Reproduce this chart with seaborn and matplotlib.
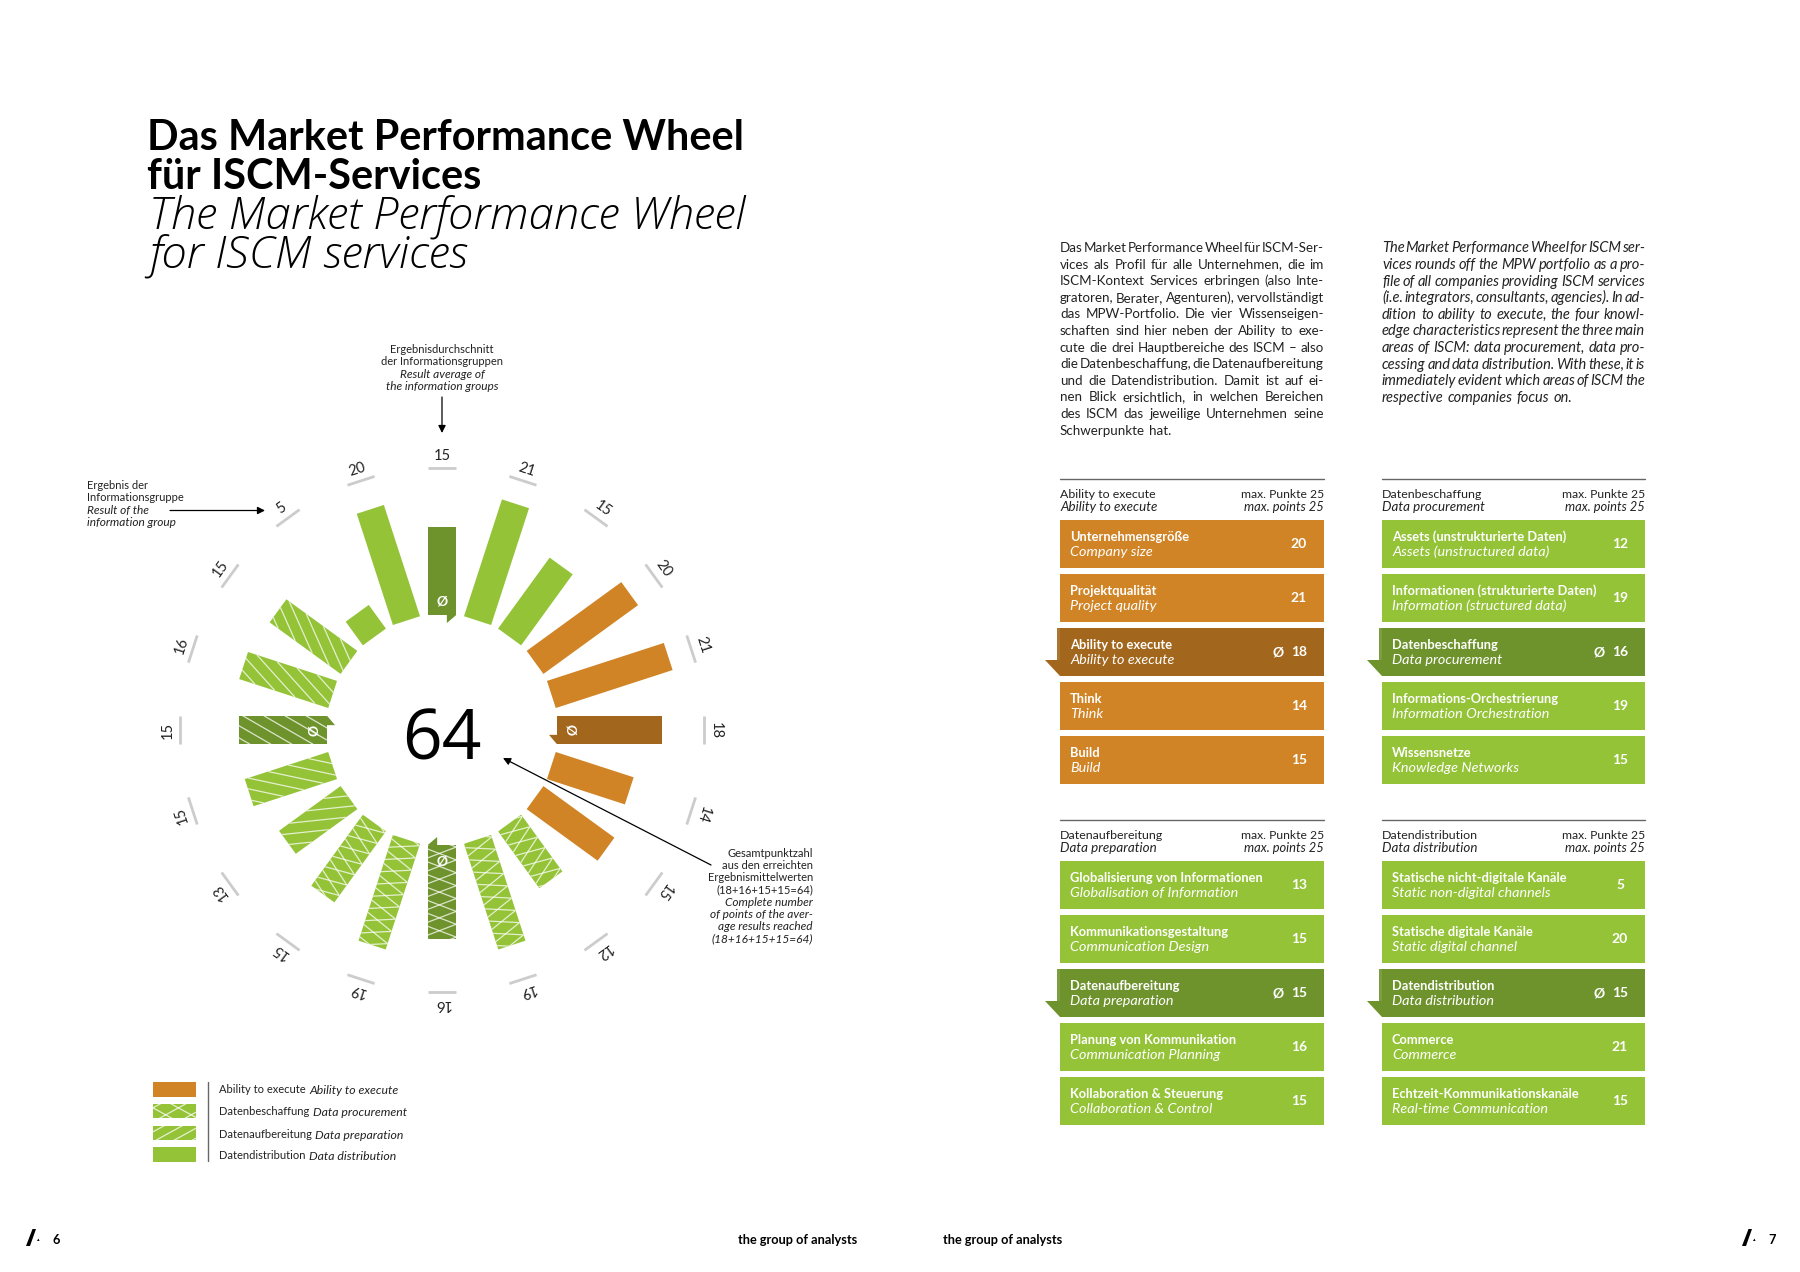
import numpy as np
import pandas as pd
import matplotlib
matplotlib.use('Agg')
import matplotlib.pyplot as plt
import seaborn as sns
from matplotlib.patches import Rectangle, Polygon
from matplotlib.path import Path
from matplotlib.transforms import Affine2D

# Datos: los cuatro grupos de la rueda
ability_de = ['Unternehmensgröße', 'Projektqualität', 'Ability to execute', 'Think', 'Build']
ability_en = ['Company size', 'Project quality', 'Ability to execute', 'Think', 'Build']
ability_scores = [20, 21, 18, 14, 15]

procurement_de = ['Assets (unstrukturierte Daten)', 'Informationen (strukturierte Daten)',
                  'Datenbeschaffung', 'Informations-Orchestrierung', 'Wissensnetze']
procurement_en = ['Assets (unstructured data)', 'Information (structured data)',
                  'Data procurement', 'Information Orchestration', 'Knowledge Networks']
procurement_scores = [12, 19, 16, 19, 15]

preparation_de = ['Globalisierung von Informationen', 'Kommunikationsgestaltung',
                  'Datenaufbereitung', 'Planung von Kommunikation', 'Kollaboration & Steuerung']
preparation_en = ['Globalisation of Information', 'Communication Design',
                  'Data preparation', 'Communication Planning', 'Collaboration & Control']
preparation_scores = [13, 15, 15, 16, 15]

distribution_de = ['Statische nicht-digitale Kanäle', 'Statische digitale Kanäle',
                   'Datendistribution', 'Commerce', 'Echtzeit-Kommunikationskanäle']
distribution_en = ['Static non-digital channels', 'Static digital channel',
                   'Data distribution', 'Commerce', 'Real-time Communication']
distribution_scores = [5, 20, 15, 21, 15]

total_score = 64

text_de = ['Das Market Performance Wheel für ISCM-Ser-',
           'vices als Profil für alle Unternehmen, die im',
           'ISCM-Kontext Services erbringen (also Inte-',
           'gratoren, Berater, Agenturen), vervollständigt',
           'das MPW-Portfolio. Die vier Wissenseigen-',
           'schaften sind hier neben der Ability to exe-',
           'cute die drei Hauptbereiche des ISCM – also',
           'die Datenbeschaffung, die Datenaufbereitung',
           'und die Datendistribution. Damit ist auf ei-',
           'nen Blick ersichtlich, in welchen Bereichen',
           'des ISCM das jeweilige Unternehmen seine',
           'Schwerpunkte hat.']
text_en = ['The Market Performance Wheel for ISCM ser-',
           'vices rounds off the MPW portfolio as a pro-',
           'file of all companies providing ISCM services',
           '(i.e. integrators, consultants, agencies). In ad-',
           'dition to ability to execute, the four knowl-',
           'edge characteristics represent the three main',
           'areas of ISCM: data procurement, data pro-',
           'cessing and data distribution. With these, it is',
           'immediately evident which areas of ISCM the',
           'respective companies focus on.']

ORANGE = '#D08426'
ORANGE_DARK = '#A2671C'
GREEN = '#94C338'
GREEN_DARK = '#6E932D'
TICK_GRAY = '#CCCCCC'
INK = '#222222'
FONT = 'Lato'

PX = 5.85          # pixeles por punto de la rueda
INNER = 115 / PX
BAR_W = 28.5 / PX

sns.set_theme(style='white')
plt.rcParams['font.family'] = [FONT, 'DejaVu Sans']

fig = plt.figure(figsize=(18, 12.72), dpi=100, facecolor='white')

# Rueda
wheel = fig.add_axes([(442 - 300) / 1800, 1 - (730 + 300) / 1272, 600 / 1800, 600 / 1272])
groups = [('ability', ability_scores, ORANGE, ORANGE_DARK, None),
          ('procurement', procurement_scores, GREEN, GREEN_DARK, 'cross'),
          ('preparation', preparation_scores, GREEN, GREEN_DARK, 'diag'),
          ('distribution', distribution_scores, GREEN, GREEN_DARK, None)]

rows = []
for name, scores, col, dark, hatch in groups:
    for j, s in enumerate(scores):
        rows.append({'pos': len(rows), 'score': s, 'color': dark if j == 2 else col,
                     'hatch': hatch, 'avg': j == 2})
df = pd.DataFrame(rows)
sns.barplot(data=df, x='pos', y='score', hue='pos', palette=list(df['color']), saturation=1,
            legend=False, dodge=False, ax=wheel)
wheel.set_xlim(-300 / PX, 300 / PX)
wheel.set_ylim(-300 / PX, 300 / PX)
wheel.set_axis_off()


def draw_hatch(ax, trans, x0, x1, y0, y1, slopes, step, color='white', lw=0.9, alpha=0.75):
    clip = Path([(x0, y0), (x1, y0), (x1, y1), (x0, y1), (x0, y0)])
    for m in slopes:
        span = abs(m) * (x1 - x0)
        for c in np.arange(y0 - span - step, y1 + span + step, step):
            ln, = ax.plot([x0, x1], [c, c + m * (x1 - x0)], color=color, lw=lw, alpha=alpha,
                          transform=trans, solid_capstyle='butt')
            ln.set_clip_path(clip, trans)


bars = sorted(wheel.patches, key=lambda p: p.get_x())
for (k, row), bar in zip(df.iterrows(), bars):
    ang = 54 + 18 * k
    rot = Affine2D().rotate_deg(-ang) + wheel.transData
    bar.set_x(-BAR_W / 2)
    bar.set_width(BAR_W)
    bar.set_y(INNER)
    bar.set_linewidth(0)
    bar.set_transform(rot)
    top = INNER + row['score']
    if row['hatch'] == 'cross':
        draw_hatch(wheel, rot, -BAR_W / 2, BAR_W / 2, INNER, top, [0.38, -0.38], 2.2)
    elif row['hatch'] == 'diag':
        draw_hatch(wheel, rot, -BAR_W / 2, BAR_W / 2, INNER, top, [1.73], 3.6)
    # marca de escala y valor
    wheel.plot([-BAR_W / 2, BAR_W / 2], [262 / PX, 262 / PX], color=TICK_GRAY, lw=2,
               transform=rot, solid_capstyle='butt')
    a = np.deg2rad(ang)
    wheel.text(274 / PX * np.sin(a), 274 / PX * np.cos(a), str(row['score']), rotation=-ang,
               rotation_mode='anchor', ha='center', va='center', fontsize=10.5, color=INK)
    if row['avg']:
        tri = [(BAR_W / 2 - 9.4 / PX, INNER), (BAR_W / 2, INNER), (BAR_W / 2 - 9.4 / PX, INNER - 8 / PX)]
        wheel.add_patch(Polygon(tri, closed=True, facecolor=row['color'], linewidth=0, transform=rot))
        wheel.text(128 / PX * np.sin(a), 128 / PX * np.cos(a), 'Ø', rotation=-ang, rotation_mode='anchor',
                   ha='center', va='center', fontsize=10, color='white', fontweight='bold')

wheel.text(0, -2.0, str(total_score), ha='center', va='center', fontsize=50, color='black',
           family='Open Sans', fontweight='normal')

# Capa de pagina en pixeles
page = fig.add_axes([0, 0, 1, 1], zorder=5)
page.set_xlim(0, 1800)
page.set_ylim(1272, 0)
page.set_axis_off()
page.patch.set_alpha(0)


def txt(x, y, s, size=9, ha='left', style='normal', weight='normal', color=INK, **kw):
    return page.text(x, y + 0.3 * size / 0.72, s, fontsize=size, ha=ha, va='baseline', style=style,
                     fontweight=weight, color=color, **kw)


# Titulo
txt(147, 138, 'Das Market Performance Wheel', 29.9, weight='bold', color='black')
txt(147, 177, 'für ISCM-Services', 29.9, weight='bold', color='black')
txt(149, 215, 'The Market Performance Wheel', 32.7, style='italic', weight='light', color='black', family='Open Sans')
txt(149, 254, 'for ISCM services', 32.7, style='italic', weight='light', color='black', family='Open Sans')

renderer = fig.canvas.get_renderer()


def justified(lines, x0, x1, y0, step, size, style):
    for n, line in enumerate(lines):
        words = line.split()
        y = y0 + n * step
        artists = [txt(0, y, w, size, style=style) for w in words]
        widths = [a.get_window_extent(renderer).width for a in artists]
        if n == len(lines) - 1:
            gap = size / 0.72 * 0.27
        else:
            gap = (x1 - x0 - sum(widths)) / (len(words) - 1)
        x = x0
        for a, w in zip(artists, widths):
            a.set_x(x)
            x += w + gap


justified(text_de, 1060, 1324, 248, 16.6, 9.6, 'normal')
justified(text_en, 1382, 1645, 248, 16.6, 10.5, 'italic')

# Tablas
blocks = [(1060, 1324, 479, 'Ability to execute', 'Ability to execute', ability_de, ability_en, ability_scores, ORANGE, ORANGE_DARK),
          (1382, 1645, 479, 'Datenbeschaffung', 'Data procurement', procurement_de, procurement_en, procurement_scores, GREEN, GREEN_DARK),
          (1060, 1324, 820, 'Datenaufbereitung', 'Data preparation', preparation_de, preparation_en, preparation_scores, GREEN, GREEN_DARK),
          (1382, 1645, 820, 'Datendistribution', 'Data distribution', distribution_de, distribution_en, distribution_scores, GREEN, GREEN_DARK)]
for x0, x1, ytop, head_de, head_en, labels_de, labels_en, scores, col, dark in blocks:
    page.plot([x0, x1], [ytop, ytop], color='#666666', lw=1)
    txt(x0, ytop + 15, head_de, 8.9)
    txt(x0, ytop + 28, head_en, 9.6, style='italic')
    txt(x1, ytop + 15, 'max. Punkte 25', 8.7, ha='right')
    txt(x1, ytop + 28, 'max. points 25', 9.3, ha='right', style='italic')
    for j, (de, en, s) in enumerate(zip(labels_de, labels_en, scores)):
        y = ytop + 41 + j * 54
        avg = j == 2
        c = dark if avg else col
        page.add_patch(Rectangle((x0, y), x1 - x0, 47.5, facecolor=c, linewidth=0))
        if avg:
            page.add_patch(Rectangle((x0 - 3.5, y), 3.5, 32, facecolor=c, linewidth=0, alpha=0.9))
            page.add_patch(Polygon([(x0 - 15, y + 32), (x0, y + 32), (x0, y + 47.5)], closed=True,
                                   facecolor=c, linewidth=0))
            txt(x1 - 46, y + 24, 'Ø', 10, ha='center', weight='bold', color='white')
        txt(x0 + 10, y + 17, de, 9.3, weight='bold', color='white')
        txt(x0 + 10, y + 32, en, 10.4, style='italic', color='white')
        txt(x1 - 25, y + 24, str(s), 10, ha='center', weight='bold', color='white')

# Leyenda
legend_names = [('Ability to execute ', 'Ability to execute', ORANGE, None),
                ('Datenbeschaffung ', 'Data procurement', GREEN, 'cross'),
                ('Datenaufbereitung ', 'Data preparation', GREEN, 'diag'),
                ('Datendistribution ', 'Data distribution', GREEN, None)]
legend_y = [1082, 1103.5, 1125.5, 1147]
legend_text_y = [1090, 1112, 1135, 1156]
for (de, en, c, h), y, ty in zip(legend_names, legend_y, legend_text_y):
    page.add_patch(Rectangle((153, y), 43, 14.5, facecolor=c, linewidth=0))
    if h == 'cross':
        draw_hatch(page, page.transData, 153, 196, y, y + 14.5, [0.55, -0.55], 14)
    elif h == 'diag':
        draw_hatch(page, page.transData, 153, 196, y, y + 14.5, [-0.55], 10)
    a = txt(219, ty, de.strip(), 8)
    w = a.get_window_extent(renderer).width
    txt(219 + w + 3.5, ty, en, 8.8, style='italic')
page.plot([208, 208], [1082, 1161], color='#666666', lw=1)

# Anotaciones
for y, s, st in zip([350, 362, 374, 386],
                    ['Ergebnisdurchschnitt', 'der Informationsgruppen', 'Result average of', 'the information groups'],
                    ['normal', 'normal', 'italic', 'italic']):
    txt(442, y, s, 8.6 if st == 'italic' else 8, ha='center', style=st)
for y, s, st in zip([486, 498, 510, 522],
                    ['Ergebnis der', 'Informationsgruppe', 'Result of the', 'information group'],
                    ['normal', 'normal', 'italic', 'italic']):
    txt(87, y, s, 8.6 if st == 'italic' else 8, style=st)
note = ['Gesamtpunktzahl', 'aus den erreichten', 'Ergebnismittelwerten', '(18+16+15+15=64)',
        'Complete number', 'of points of the aver-', 'age results reached', '(18+16+15+15=64)']
for n, s in enumerate(note):
    txt(813, 854 + n * 12.05, s, 8.6 if n >= 4 else 8, ha='right', style='italic' if n >= 4 else 'normal')

arrow = dict(arrowstyle='-|>', color='black', lw=0.9, mutation_scale=11, shrinkA=0, shrinkB=0)
page.annotate('', xy=(442, 433), xytext=(442, 397), arrowprops=arrow)
page.annotate('', xy=(265, 510.5), xytext=(170, 510.5), arrowprops=arrow)
page.annotate('', xy=(503, 758), xytext=(711, 865), arrowprops=arrow)

# Pie de pagina
for dx in [0, 1716]:
    page.add_patch(Polygon([(26 + dx, 1246), (30 + dx, 1246), (36 + dx, 1229), (32.5 + dx, 1229)],
                           closed=True, facecolor='black', linewidth=0))
    page.add_patch(Polygon([(37 + dx, 1241), (39.5 + dx, 1241), (38.5 + dx, 1238.5)],
                           closed=True, facecolor='black', linewidth=0))
txt(56, 1240.5, '6', 9.2, ha='center', weight='bold', color='black')
txt(1772, 1240.5, '7', 9.2, ha='center', weight='bold', color='black')
txt(798, 1240.5, 'the group of analysts', 9.2, ha='center', weight='bold', color='black')
txt(1003, 1240.5, 'the group of analysts', 9.2, ha='center', weight='bold', color='black')

fig.savefig('out.png', dpi=100)
plt.close(fig)
